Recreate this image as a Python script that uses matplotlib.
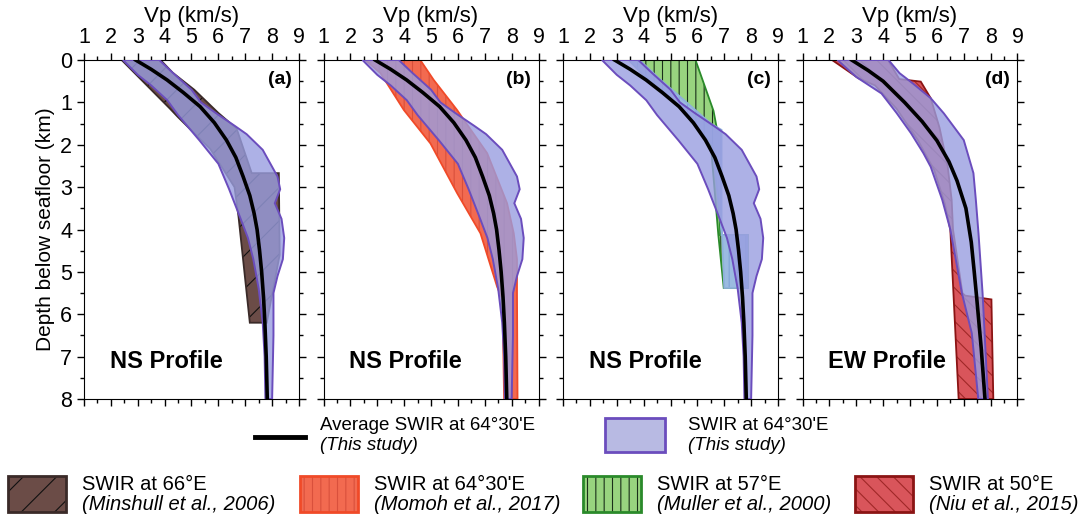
import numpy as np
import matplotlib.pyplot as plt
from matplotlib.patches import Rectangle
from matplotlib.lines import Line2D
from matplotlib.ticker import MultipleLocator

plt.rcParams['font.family'] = ['Liberation Sans', 'DejaVu Sans']
plt.rcParams['hatch.linewidth'] = 0.8

# ---- average profiles (this study) ----
ns_mean_depth = [0, 0.22, 0.47, 0.77, 1.1, 1.48, 1.89, 2.3, 2.75, 3.2, 3.62, 4.0, 4.48, 5.0, 5.6, 6.2, 7.0, 8.0]
ns_mean_vp = [2.92, 3.5, 4.09, 4.7, 5.32, 5.85, 6.3, 6.65, 6.92, 7.17, 7.33, 7.44, 7.53, 7.61, 7.68, 7.73, 7.78, 7.82]
ew_mean_depth = [0, 0.25, 0.5, 1.0, 1.45, 1.9, 2.4, 2.85, 3.5, 4.3, 5.0, 5.6, 6.8, 8.0]
ew_mean_vp = [2.83, 3.45, 4.0, 4.8, 5.45, 6.0, 6.45, 6.75, 7.08, 7.28, 7.39, 7.48, 7.65, 7.79]

# ---- envelopes (this study) ----
ns_left_depth = [0, 0.35, 0.6, 0.95, 1.3, 1.9, 2.45, 3.05, 3.7, 4.2, 4.7, 5.4, 6.2, 7.0, 8.0]
ns_left_vp = [2.45, 3.0, 3.5, 4.1, 4.5, 5.3, 6.0, 6.4, 6.8, 7.1, 7.3, 7.5, 7.65, 7.72, 7.75]
ns_right_depth = [0, 0.3, 0.7, 1.0, 1.25, 1.55, 1.75, 2.12, 2.75, 3.05, 3.38, 3.75, 4.2, 4.7, 5.1, 5.5, 6.5, 8.0]
ns_right_vp = [3.8, 4.3, 5.0, 5.35, 5.9, 6.6, 7.05, 7.65, 8.2, 8.3, 8.1, 8.35, 8.45, 8.4, 8.2, 8.05, 8.05, 8.0]
ew_left_depth = [0, 0.4, 0.79, 1.25, 1.73, 2.2, 2.52, 3.3, 4.0, 5.5, 6.45, 8.0]
ew_left_vp = [2.3, 3.0, 3.94, 4.5, 5.04, 5.5, 5.77, 6.2, 6.5, 6.93, 7.3, 7.54]
ew_right_depth = [0, 0.31, 0.55, 0.9, 1.26, 1.89, 2.67, 3.3, 4.1, 5.5, 8.0]
ew_right_vp = [4.2, 4.61, 5.1, 5.77, 6.26, 7.0, 7.36, 7.45, 7.55, 7.7, 7.9]

# ---- published profiles (outlines) ----
minshull_vp = [2.4, 3.85, 4.3, 5.1, 6.0, 6.68, 7.24, 8.25, 8.28, 7.8, 7.17, 6.75, 6.6, 5.7, 4.5, 4.2]
minshull_depth = [0, 0, 0.3, 0.7, 1.25, 1.62, 2.67, 2.67, 4.6, 6.2, 6.2, 3.7, 3.0, 2.1, 1.35, 1.15]
momoh_vp = [2.55, 3.12, 3.99, 4.98, 5.97, 6.84, 7.46, 7.66, 7.72, 8.22, 8.2, 8.2, 8.08, 7.83, 7.09, 6.22, 5.97, 5.1, 4.6]
momoh_depth = [0, 0.31, 1.18, 1.97, 3.14, 4.09, 5.35, 5.66, 8.0, 8.0, 5.5, 4.7, 4.09, 3.38, 2.2, 1.41, 1.18, 0.47, 0]
muller_vp = [3.45, 5.93, 6.6, 6.72, 6.85, 7.87, 7.87, 6.98, 6.78, 6.5, 5.3, 4.3]
muller_depth = [0, 0, 1.2, 1.6, 4.13, 4.13, 5.38, 5.38, 4.13, 2.0, 1.1, 0.55]
muller_inner_vp = [3.45, 3.85, 4.6, 5.6, 6.5, 6.9, 6.9, 7.87, 7.87, 7.0, 6.92, 6.55, 5.3, 4.3]
muller_inner_depth = [0, 0, 0.45, 1.0, 1.5, 1.65, 4.13, 4.13, 5.38, 5.38, 4.13, 2.0, 1.1, 0.55]
niu_vp = [2.1, 4.18, 4.6, 5.4, 5.77, 6.1, 6.4, 6.55, 6.6, 6.95, 7.05, 8.03, 8.1, 6.81, 6.5, 6.3, 5.9, 5.3, 4.5, 3.7, 3.08]
niu_depth = [0, 0, 0.45, 0.51, 0.9, 1.6, 2.5, 3.3, 4.0, 5.5, 5.56, 5.65, 8.0, 8.0, 4.0, 3.4, 2.6, 1.9, 1.15, 0.6, 0.43]

panel_tags = ['(a)', '(b)', '(c)', '(d)']
profile_names = ['NS Profile', 'NS Profile', 'NS Profile', 'EW Profile']

purple_face = (0.60, 0.62, 0.88)
purple_legend = (0.72, 0.73, 0.89)
purple_edge = (0.42, 0.30, 0.74)

brown = ('#6b4c47', '#3a2a28', '#111111')
momoh_c = ('#f26a50', '#f04a28', '#d9503c')
muller_c = ('#98d47f', '#2a8a2a', '#1a2f1a')
inner_c = ('#9bbbe0', '#8fb0dc', '#7fa3d6')
niu_c = ('#d9555b', '#8b1414', '#a02828')

W, H = 1091.0, 518.0
fig = plt.figure(figsize=(10.91, 5.18), dpi=100)


def fbox(x0, y0, x1, y1):
    return [x0 / W, 1 - y1 / H, (x1 - x0) / W, (y1 - y0) / H]


def hatched(ax, vp, dep, colors, hatch, z):
    face, edge, hcol = colors
    ax.fill(vp, dep, facecolor=face, edgecolor='none', zorder=z)
    ax.fill(vp, dep, facecolor='none', edgecolor=hcol, hatch=hatch, linewidth=0, zorder=z)
    ax.fill(vp, dep, facecolor='none', edgecolor=edge, linewidth=1.3, zorder=z)


def envelope(ax, lv, ld, rv, rd):
    vp = np.concatenate([lv, rv[::-1]])
    dep = np.concatenate([ld, rd[::-1]])
    ax.fill(vp, dep, facecolor=purple_face, alpha=0.8, edgecolor='none', zorder=4)
    ax.fill(vp, dep, facecolor='none', edgecolor=purple_edge, linewidth=1.4, zorder=4)


panel_left = [84, 323.5, 563, 802.5]
axes = [fig.add_axes(fbox(x, 60, x + 215, 399)) for x in panel_left]

hatched(axes[0], minshull_vp, minshull_depth, brown, '/', 1)
hatched(axes[1], momoh_vp, momoh_depth, momoh_c, '||', 1)
hatched(axes[2], muller_vp, muller_depth, muller_c, '||', 1)
hatched(axes[2], muller_inner_vp, muller_inner_depth, inner_c, '||', 2)
hatched(axes[3], niu_vp, niu_depth, niu_c, '\\\\', 1)

for i, ax in enumerate(axes):
    if i < 3:
        envelope(ax, ns_left_vp, ns_left_depth, ns_right_vp, ns_right_depth)
        ax.plot(ns_mean_vp, ns_mean_depth, color='k', lw=2.6, zorder=5)
    else:
        envelope(ax, ew_left_vp, ew_left_depth, ew_right_vp, ew_right_depth)
        ax.plot(ew_mean_vp, ew_mean_depth, color='k', lw=2.6, zorder=5)

    ax.set_xlim(1, 9)
    ax.set_ylim(8, 0)
    ax.xaxis.set_major_locator(MultipleLocator(1))
    ax.xaxis.set_minor_locator(MultipleLocator(0.5))
    ax.yaxis.set_major_locator(MultipleLocator(1))
    ax.yaxis.set_minor_locator(MultipleLocator(0.5))
    ax.tick_params(which='both', direction='out', top=True, bottom=True, left=True, right=True,
                   labeltop=True, labelbottom=False, labelleft=(i == 0), labelsize=15.5, width=1)
    ax.tick_params(which='major', length=5)
    ax.tick_params(which='minor', length=3)
    ax.xaxis.set_label_position('top')
    ax.set_xlabel('Vp (km/s)', fontsize=16, labelpad=4)
    ax.text(0.965, 0.942, panel_tags[i], transform=ax.transAxes, ha='right', va='center',
            fontsize=14, fontweight='bold', zorder=6)
    ax.text(0.12, 0.11, profile_names[i], transform=ax.transAxes, ha='left', va='center',
            fontsize=17, fontweight='bold', zorder=6)

axes[0].set_ylabel('Depth below seafloor (km)', fontsize=15)

# ---- legend ----
fig.add_artist(Line2D([255 / W, 305 / W], [1 - 437 / H] * 2, color='k', lw=3.5,
                      transform=fig.transFigure))
fig.text(320 / W, 1 - 426 / H, "Average SWIR at 64°30'E", fontsize=13.5, va='center')
fig.text(320 / W, 1 - 446 / H, '(This study)', fontsize=13.5, va='center', style='italic')
fig.add_artist(Rectangle((605 / W, 1 - 452 / H), 60 / W, 34 / H, facecolor=purple_legend,
                         edgecolor=purple_edge, lw=2, transform=fig.transFigure))
fig.text(688 / W, 1 - 426 / H, "SWIR at 64°30'E", fontsize=13.5, va='center')
fig.text(688 / W, 1 - 446 / H, '(This study)', fontsize=13.5, va='center', style='italic')

legend_items = [
    (8, brown, '/', 'SWIR at 66°E', '(Minshull et al., 2006)'),
    (300, momoh_c, '||', "SWIR at 64°30'E", '(Momoh et al., 2017)'),
    (583, muller_c, '||', 'SWIR at 57°E', '(Muller et al., 2000)'),
    (855, niu_c, '\\\\', 'SWIR at 50°E', '(Niu et al., 2015)'),
]
for x0, cols, hatch, line1, line2 in legend_items:
    face, edge, hcol = cols
    fig.add_artist(Rectangle((x0 / W, 1 - 512 / H), 58 / W, 36 / H, facecolor=face,
                             edgecolor=hcol, hatch=hatch, lw=0, transform=fig.transFigure))
    fig.add_artist(Rectangle((x0 / W, 1 - 512 / H), 58 / W, 36 / H, facecolor='none',
                             edgecolor=edge, lw=2, transform=fig.transFigure))
    fig.text((x0 + 74) / W, 1 - 485 / H, line1, fontsize=14.5, va='center')
    fig.text((x0 + 74) / W, 1 - 504 / H, line2, fontsize=14.5, va='center', style='italic')

fig.savefig('out.png', dpi=100)
